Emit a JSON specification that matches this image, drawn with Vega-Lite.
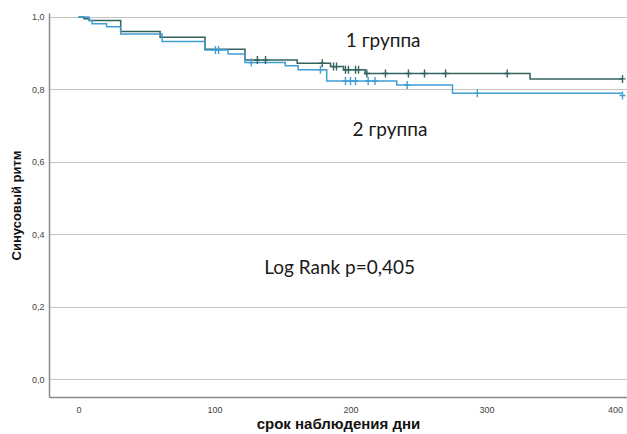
{
  "$schema": "https://vega.github.io/schema/vega-lite/v6.json",
  "width": 578,
  "height": 384,
  "autosize": {"type": "none"},
  "padding": {"left": 49, "top": 13, "right": 0, "bottom": 37},
  "background": "white",
  "config": {
    "view": {"stroke": null},
    "axis": {"labelFont": "Liberation Sans", "titleFont": "Liberation Sans"}
  },
  "datasets": {
    "curves": [
      {"group": "1 группа", "t": 0, "S": 1.0},
      {"group": "1 группа", "t": 4, "S": 0.995},
      {"group": "1 группа", "t": 8, "S": 0.99},
      {"group": "1 группа", "t": 31, "S": 0.96},
      {"group": "1 группа", "t": 60, "S": 0.944},
      {"group": "1 группа", "t": 93, "S": 0.911},
      {"group": "1 группа", "t": 122.4, "S": 0.881},
      {"group": "1 группа", "t": 160.8, "S": 0.872},
      {"group": "1 группа", "t": 185.3, "S": 0.863},
      {"group": "1 группа", "t": 194.9, "S": 0.854},
      {"group": "1 группа", "t": 210.7, "S": 0.844},
      {"group": "1 группа", "t": 332, "S": 0.829},
      {"group": "1 группа", "t": 400, "S": 0.829},
      {"group": "2 группа", "t": 0, "S": 1.0},
      {"group": "2 группа", "t": 7.6, "S": 0.99},
      {"group": "2 группа", "t": 10, "S": 0.981},
      {"group": "2 группа", "t": 20.6, "S": 0.973},
      {"group": "2 группа", "t": 31, "S": 0.953},
      {"group": "2 группа", "t": 61.5, "S": 0.932},
      {"group": "2 группа", "t": 93, "S": 0.909},
      {"group": "2 группа", "t": 110, "S": 0.898},
      {"group": "2 группа", "t": 122.4, "S": 0.874},
      {"group": "2 группа", "t": 152, "S": 0.865},
      {"group": "2 группа", "t": 161.5, "S": 0.854},
      {"group": "2 группа", "t": 182.5, "S": 0.823},
      {"group": "2 группа", "t": 234, "S": 0.812},
      {"group": "2 группа", "t": 275, "S": 0.789},
      {"group": "2 группа", "t": 400, "S": 0.789}
    ],
    "censored": [
      {"group": "1 группа", "t": 131.5, "S": 0.881},
      {"group": "1 группа", "t": 137.5, "S": 0.881},
      {"group": "1 группа", "t": 179.2, "S": 0.872},
      {"group": "1 группа", "t": 187.5, "S": 0.863},
      {"group": "1 группа", "t": 189.7, "S": 0.863},
      {"group": "1 группа", "t": 196.3, "S": 0.854},
      {"group": "1 группа", "t": 198.5, "S": 0.854},
      {"group": "1 группа", "t": 203.7, "S": 0.854},
      {"group": "1 группа", "t": 205.9, "S": 0.854},
      {"group": "1 группа", "t": 212, "S": 0.844},
      {"group": "1 группа", "t": 225.7, "S": 0.844},
      {"group": "1 группа", "t": 242.6, "S": 0.844},
      {"group": "1 группа", "t": 254.4, "S": 0.844},
      {"group": "1 группа", "t": 269.9, "S": 0.844},
      {"group": "1 группа", "t": 315.2, "S": 0.844},
      {"group": "1 группа", "t": 400, "S": 0.829},
      {"group": "2 группа", "t": 100.7, "S": 0.909},
      {"group": "2 группа", "t": 103, "S": 0.909},
      {"group": "2 группа", "t": 127, "S": 0.874},
      {"group": "2 группа", "t": 177.9, "S": 0.854},
      {"group": "2 группа", "t": 196.3, "S": 0.823},
      {"group": "2 группа", "t": 200, "S": 0.823},
      {"group": "2 группа", "t": 203.7, "S": 0.823},
      {"group": "2 группа", "t": 213, "S": 0.823},
      {"group": "2 группа", "t": 218, "S": 0.823},
      {"group": "2 группа", "t": 241.7, "S": 0.812},
      {"group": "2 группа", "t": 293.2, "S": 0.789},
      {"group": "2 группа", "t": 400, "S": 0.783}
    ],
    "notes": [
      {"label": "1 группа", "t": 224, "S": 0.935},
      {"label": "2 группа", "t": 229, "S": 0.688},
      {"label": "Log Rank p=0,405", "t": 192, "S": 0.307}
    ]
  },
  "encoding": {
    "x": {
      "field": "t",
      "type": "quantitative",
      "scale": {"domain": [-21.7, 403.3], "nice": false, "zero": false},
      "axis": {
        "values": [0, 100, 200, 300, 400],
        "grid": false,
        "ticks": false,
        "domainColor": "#8a8a8a",
        "domainWidth": 1.5,
        "labelFontSize": 9,
        "labelColor": "#444444",
        "labelPadding": 8,
        "labelFlush": 10,
        "title": "срок наблюдения дни",
        "titleFontSize": 15,
        "titleFontWeight": "bold",
        "titleColor": "#111111",
        "titlePadding": 2
      }
    },
    "y": {
      "field": "S",
      "type": "quantitative",
      "scale": {"domain": [-0.0497, 1.011], "nice": false, "zero": false},
      "axis": {
        "values": [0, 0.2, 0.4, 0.6, 0.8, 1.0],
        "labelExpr": "replace(format(datum.value, '.1f'), '.', ',')",
        "grid": true,
        "gridColor": "#c4c4c4",
        "gridWidth": 1,
        "ticks": false,
        "domainColor": "#8a8a8a",
        "domainWidth": 1.5,
        "labelFontSize": 9,
        "labelColor": "#444444",
        "labelPadding": 5,
        "title": "Синусовый ритм",
        "titleFontSize": 13,
        "titleFontWeight": "bold",
        "titleColor": "#111111",
        "titlePadding": 8
      }
    }
  },
  "layer": [
    {
      "data": {"name": "curves"},
      "mark": {"type": "line", "interpolate": "step-after", "strokeWidth": 1.5},
      "encoding": {
        "color": {
          "field": "group",
          "type": "nominal",
          "scale": {"domain": ["1 группа", "2 группа"], "range": ["#33635c", "#3f9fd5"]},
          "legend": null
        }
      }
    },
    {
      "data": {"name": "censored"},
      "mark": {
        "type": "point",
        "shape": "M-0.75,0L0.75,0M0,-1L0,1",
        "filled": false,
        "size": 64,
        "strokeWidth": 1.4,
        "opacity": 1
      },
      "encoding": {
        "color": {
          "field": "group",
          "type": "nominal",
          "scale": {"domain": ["1 группа", "2 группа"], "range": ["#33635c", "#3f9fd5"]},
          "legend": null
        }
      }
    },
    {
      "data": {"name": "notes"},
      "mark": {"type": "text", "font": "Lato", "fontSize": 19, "color": "#1a1a1a", "align": "center", "baseline": "middle"},
      "encoding": {
        "text": {"field": "label", "type": "nominal"}
      }
    }
  ]
}
